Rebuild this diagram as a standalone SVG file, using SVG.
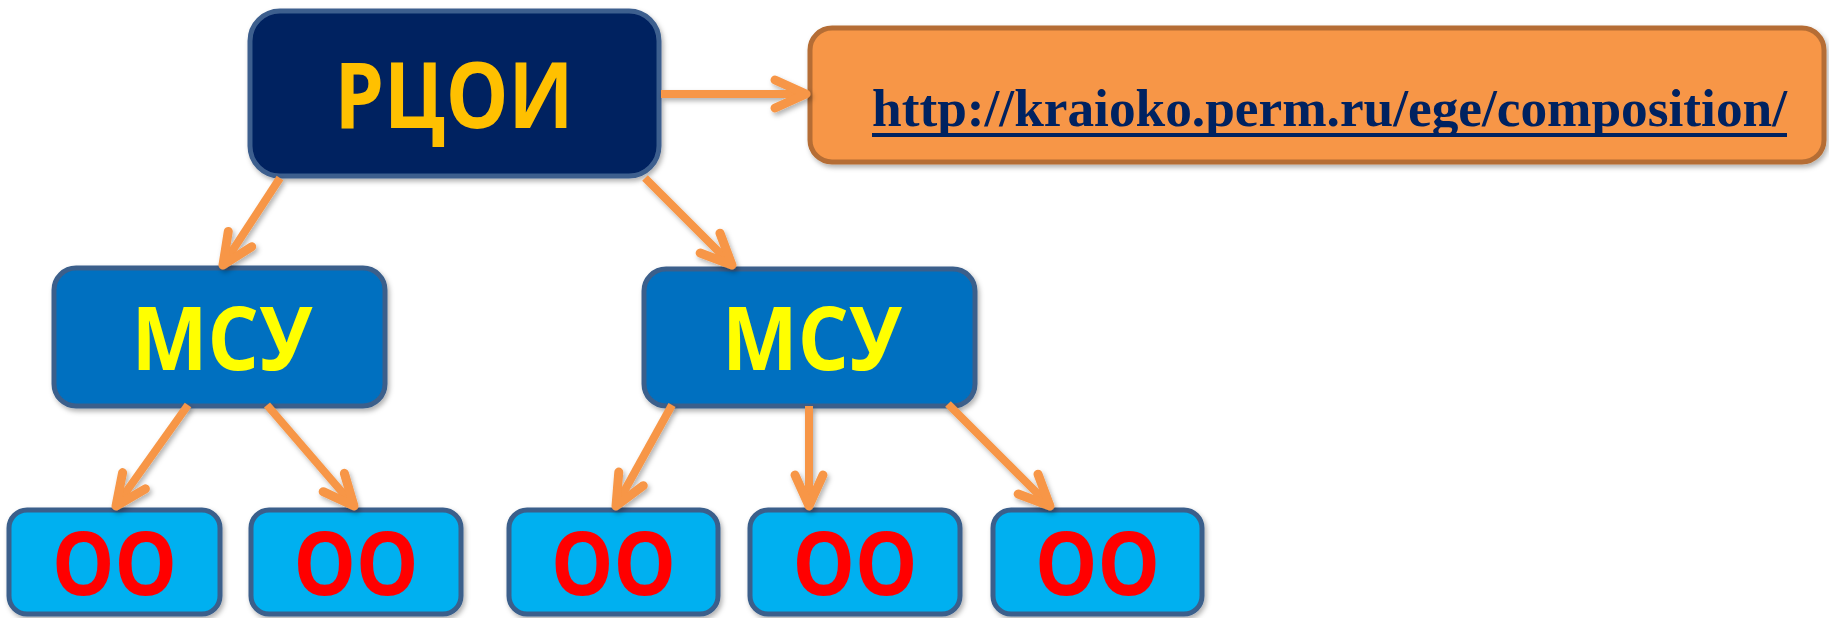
<svg xmlns="http://www.w3.org/2000/svg" width="1829" height="618" viewBox="0 0 1829 618">
  <style>
    .box { stroke-width: 5; }
    .top { fill: #002060; stroke: #3D5F8E; }
    .msu { fill: #0070C0; stroke: #3A5F8B; }
    .oo { fill: #00B0F0; stroke: #3A5F8B; }
    .url { fill: #F79646; stroke: #B56D34; }
    .lbl { font-family: "Open Sans", "Liberation Sans", sans-serif; font-weight: bold; text-anchor: middle; }
    .conn { stroke: #F79646; stroke-width: 8; fill: none; stroke-linecap: butt; }
  </style>
  <defs>
    <filter id="sh" x="-10%" y="-10%" width="130%" height="140%">
      <feDropShadow dx="2" dy="3" stdDeviation="2.5" flood-color="#000" flood-opacity="0.3"/>
    </filter>
    <marker id="arr" markerUnits="userSpaceOnUse" markerWidth="60" markerHeight="60" viewBox="-40 -30 50 60" refX="0" refY="0" orient="auto" overflow="visible">
      <path d="M-31,-14 L0,0 L-31,14" fill="none" stroke="#F79646" stroke-width="9" stroke-linecap="round" stroke-linejoin="round"/>
    </marker>
  </defs>

  <g id="node-rcoi" filter="url(#sh)">
    <rect class="box top" x="250" y="11" width="409" height="165" rx="30"/>
    <text class="lbl" x="454" y="128" font-size="91" fill="#FFC000" textLength="239" lengthAdjust="spacingAndGlyphs">РЦОИ</text>
  </g>

  <g id="node-url" filter="url(#sh)">
    <rect class="box url" x="810" y="28" width="1014" height="134" rx="22"/>
    <text x="872" y="126" font-family="'Liberation Serif', 'Times New Roman', serif" font-weight="bold" font-size="52" fill="#002060" textLength="915" lengthAdjust="spacingAndGlyphs">http://kraioko.perm.ru/ege/composition/</text>
    <rect x="872" y="133" width="915" height="4" fill="#002060"/>
  </g>

  <g id="node-msu1" filter="url(#sh)">
    <rect class="box msu" x="54" y="268" width="331" height="138" rx="22"/>
    <text class="lbl" x="222" y="370" font-size="88" fill="#FFFF00" textLength="181" lengthAdjust="spacingAndGlyphs">МСУ</text>
  </g>

  <g id="node-msu2" filter="url(#sh)">
    <rect class="box msu" x="644" y="269" width="331" height="137" rx="22"/>
    <text class="lbl" x="812" y="370" font-size="88" fill="#FFFF00" textLength="180" lengthAdjust="spacingAndGlyphs">МСУ</text>
  </g>

  <g id="node-oo1" filter="url(#sh)">
    <rect class="box oo" x="9" y="510" width="211" height="104" rx="18"/>
    <text class="lbl" x="114.5" y="595" font-size="87" fill="#FF0000" textLength="125" lengthAdjust="spacingAndGlyphs">ОО</text>
  </g>
  <g id="node-oo2" filter="url(#sh)">
    <rect class="box oo" x="251" y="510" width="210" height="104" rx="18"/>
    <text class="lbl" x="356" y="595" font-size="87" fill="#FF0000" textLength="125" lengthAdjust="spacingAndGlyphs">ОО</text>
  </g>
  <g id="node-oo3" filter="url(#sh)">
    <rect class="box oo" x="509" y="510" width="209" height="104" rx="18"/>
    <text class="lbl" x="613.5" y="595" font-size="87" fill="#FF0000" textLength="125" lengthAdjust="spacingAndGlyphs">ОО</text>
  </g>
  <g id="node-oo4" filter="url(#sh)">
    <rect class="box oo" x="750" y="510" width="210" height="104" rx="18"/>
    <text class="lbl" x="855" y="595" font-size="87" fill="#FF0000" textLength="125" lengthAdjust="spacingAndGlyphs">ОО</text>
  </g>
  <g id="node-oo5" filter="url(#sh)">
    <rect class="box oo" x="993" y="510" width="209" height="104" rx="18"/>
    <text class="lbl" x="1097.5" y="595" font-size="87" fill="#FF0000" textLength="125" lengthAdjust="spacingAndGlyphs">ОО</text>
  </g>

  <g id="connectors" filter="url(#sh)">
    <line class="conn" x1="661" y1="94" x2="806" y2="94" marker-end="url(#arr)"/>
    <line class="conn" x1="280" y1="178" x2="223" y2="265" marker-end="url(#arr)"/>
    <line class="conn" x1="645" y1="178" x2="732" y2="265" marker-end="url(#arr)"/>
    <line class="conn" x1="188" y1="405" x2="116" y2="506" marker-end="url(#arr)"/>
    <line class="conn" x1="267" y1="405" x2="354" y2="506" marker-end="url(#arr)"/>
    <line class="conn" x1="672" y1="405" x2="616" y2="506" marker-end="url(#arr)"/>
    <line class="conn" x1="809" y1="406" x2="809" y2="506" marker-end="url(#arr)"/>
    <line class="conn" x1="948" y1="404" x2="1050" y2="506" marker-end="url(#arr)"/>
  </g>
</svg>
